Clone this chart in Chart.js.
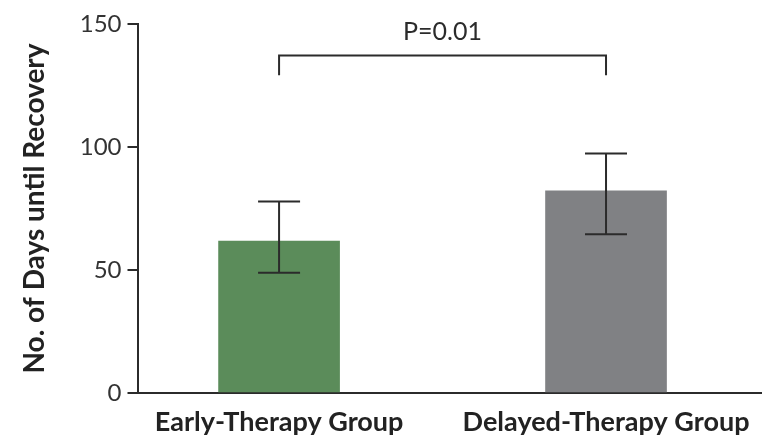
<!DOCTYPE html>
<html>
<head>
<meta charset="utf-8">
<script src="https://cdn.jsdelivr.net/npm/chart.js@4.4.0/dist/chart.umd.min.js"></script>
<style>
  html, body { margin: 0; padding: 0; background: #fff; }
  #wrap { position: relative; width: 762px; height: 435px; }
</style>
</head>
<body>
<div id="wrap"><canvas id="chart"></canvas></div>
<script>
// data
const groups = ["Early-Therapy Group", "Delayed-Therapy Group"];
const groupPos = [1, 2];
const meanDays = [61.8, 82.2];
const errLow = [48.9, 64.5];
const errHigh = [77.8, 97.4];
const yTicks = [0, 50, 100, 150];
const pText = "P=0.01";
const bracketTop = 137.2;
const bracketFoot = 129.2;

const barColors = ["#5b8c5a", "#808184"];
const ink = "#2b2b2b";

// error bars + significance bracket
const extras = {
  id: "extras",
  afterDatasetsDraw(chart) {
    const { ctx, scales: { x, y } } = chart;
    ctx.save();
    ctx.strokeStyle = ink;
    ctx.lineWidth = 2;
    groupPos.forEach((p, i) => {
      const cx = x.getPixelForValue(p);
      const top = y.getPixelForValue(errHigh[i]);
      const bot = y.getPixelForValue(errLow[i]);
      ctx.beginPath();
      ctx.moveTo(cx, top); ctx.lineTo(cx, bot);
      ctx.moveTo(cx - 21, top); ctx.lineTo(cx + 21, top);
      ctx.moveTo(cx - 21, bot); ctx.lineTo(cx + 21, bot);
      ctx.stroke();
    });
    const x1 = x.getPixelForValue(groupPos[0]);
    const x2 = x.getPixelForValue(groupPos[1]);
    const yt = y.getPixelForValue(bracketTop);
    const yf = y.getPixelForValue(bracketFoot);
    ctx.beginPath();
    ctx.moveTo(x1, yf); ctx.lineTo(x1, yt); ctx.lineTo(x2, yt); ctx.lineTo(x2, yf);
    ctx.stroke();
    ctx.fillStyle = ink;
    ctx.font = "25px Lato";
    ctx.textAlign = "center";
    ctx.textBaseline = "alphabetic";
    ctx.fillText(pText, (x1 + x2) / 2, yt - 15.5);
    ctx.restore();
  }
};

new Chart(document.getElementById("chart"), {
  type: "bar",
  data: {
    datasets: [{
      data: groupPos.map((p, i) => ({ x: p, y: meanDays[i] })),
      backgroundColor: barColors,
      borderWidth: 0,
      barThickness: 121
    }]
  },
  options: {
    responsive: true,
    maintainAspectRatio: false,
    animation: false,
    layout: { padding: { top: 24, right: 1, left: 0, bottom: 0 } },
    plugins: { legend: { display: false }, tooltip: { enabled: false } },
    scales: {
      x: {
        type: "linear",
        min: 0.567,
        max: 2.474,
        offset: false,
        bounds: "data",
        afterBuildTicks: s => { s.ticks = groupPos.map(v => ({ value: v })); },
        afterFit: s => { s.height = 42; },
        grid: { display: false, offset: false },
        border: { display: true, color: ink, width: 2 },
        ticks: {
          callback: v => groups[groupPos.indexOf(v)],
          color: "#222",
          font: { family: "Lato", size: 27, weight: "bold" },
          padding: 5,
          maxRotation: 0,
          autoSkip: false
        }
      },
      y: {
        min: 0,
        max: 150,
        afterBuildTicks: s => { s.ticks = yTicks.map(v => ({ value: v })); },
        afterFit: s => { s.width = 137.5; },
        grid: { drawOnChartArea: false, drawTicks: true, tickLength: 10, color: ink, lineWidth: 2 },
        border: { display: true, color: ink, width: 2 },
        ticks: {
          color: "#333",
          font: { family: "Lato", size: 24 },
          padding: 6
        },
        title: {
          display: true,
          text: "No. of Days until Recovery",
          color: "#222",
          font: { family: "Lato", size: 28, weight: "bold" },
          padding: { top: 18, bottom: 0 }
        }
      }
    }
  },
  plugins: [extras]
});
</script>
</body>
</html>
